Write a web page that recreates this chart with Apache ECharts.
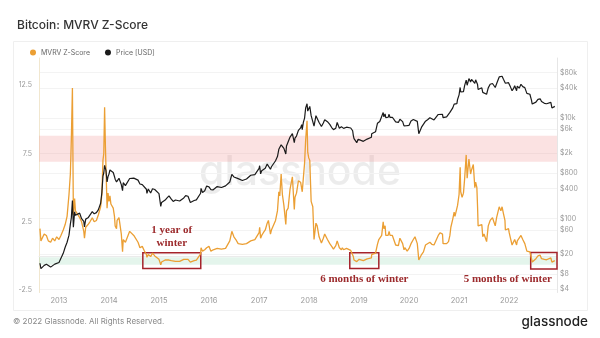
<!DOCTYPE html>
<html><head><meta charset="utf-8">
<script src="https://cdn.jsdelivr.net/npm/echarts@6/dist/echarts.min.js"></script>
<style>html,body{margin:0;padding:0;background:#fff}#c{width:600px;height:338px}</style>
</head><body><div id="c"></div>
<script>
const dates = [
'2012-08-15','2012-08-22','2012-09-01','2012-09-15','2012-10-01','2012-10-15','2012-11-01','2012-11-15','2012-12-01','2012-12-15',
'2013-01-01','2013-01-15','2013-02-01','2013-02-15','2013-03-01','2013-03-15','2013-03-25','2013-04-01','2013-04-09','2013-04-16','2013-04-25','2013-05-01','2013-05-15','2013-06-01','2013-06-15','2013-07-01','2013-07-06','2013-07-15','2013-08-01','2013-08-15','2013-09-01','2013-09-15','2013-10-01','2013-10-15','2013-11-01','2013-11-10','2013-11-18','2013-11-24','2013-11-30','2013-12-06','2013-12-10','2013-12-18','2013-12-25',
'2014-01-01','2014-01-08','2014-01-15','2014-02-01','2014-02-10','2014-02-15','2014-02-25','2014-03-01','2014-03-15','2014-04-01','2014-04-10','2014-04-15','2014-05-01','2014-05-15','2014-06-01','2014-06-15','2014-07-01','2014-07-15','2014-08-01','2014-08-15','2014-09-01','2014-09-15','2014-10-01','2014-10-05','2014-10-15','2014-11-01','2014-11-15','2014-12-01','2014-12-15',
'2015-01-01','2015-01-14','2015-01-20','2015-02-01','2015-02-15','2015-03-01','2015-03-15','2015-04-01','2015-04-15','2015-05-01','2015-05-15','2015-06-01','2015-06-15','2015-07-01','2015-07-15','2015-08-01','2015-08-18','2015-09-01','2015-09-15','2015-10-01','2015-10-15','2015-11-01','2015-11-04','2015-11-15','2015-12-01','2015-12-15',
'2016-01-01','2016-01-15','2016-02-01','2016-02-15','2016-03-01','2016-03-15','2016-04-01','2016-04-15','2016-05-01','2016-05-15','2016-06-01','2016-06-16','2016-07-01','2016-07-15','2016-08-01','2016-08-10','2016-09-01','2016-09-15','2016-10-01','2016-10-15','2016-11-01','2016-11-15','2016-12-01','2016-12-15',
'2017-01-01','2017-01-05','2017-01-12','2017-01-20','2017-02-01','2017-02-15','2017-03-01','2017-03-10','2017-03-25','2017-04-01','2017-04-15','2017-05-01','2017-05-15','2017-05-25','2017-06-01','2017-06-11','2017-06-20','2017-07-01','2017-07-15','2017-07-20','2017-08-01','2017-08-15','2017-09-01','2017-09-15','2017-09-20','2017-10-01','2017-10-15','2017-10-31','2017-11-08','2017-11-12','2017-11-20','2017-11-29','2017-12-07','2017-12-17','2017-12-22','2017-12-29',
'2018-01-06','2018-01-16','2018-01-28','2018-02-06','2018-02-20','2018-03-01','2018-03-15','2018-04-01','2018-04-15','2018-04-25','2018-05-05','2018-05-15','2018-06-01','2018-06-15','2018-06-28','2018-07-15','2018-07-25','2018-08-10','2018-08-25','2018-09-01','2018-09-10','2018-09-20','2018-10-01','2018-10-15','2018-11-01','2018-11-15','2018-11-20','2018-11-25','2018-12-01','2018-12-15','2018-12-25',
'2019-01-01','2019-01-15','2019-02-01','2019-02-08','2019-02-15','2019-03-01','2019-03-15','2019-04-01','2019-04-03','2019-04-15','2019-05-01','2019-05-15','2019-05-25','2019-06-01','2019-06-15','2019-06-26','2019-07-01','2019-07-10','2019-07-15','2019-08-01','2019-08-08','2019-08-15','2019-09-01','2019-09-15','2019-09-25','2019-10-01','2019-10-15','2019-10-26','2019-11-01','2019-11-15','2019-11-25','2019-12-01','2019-12-15','2019-12-18',
'2020-01-01','2020-01-15','2020-02-01','2020-02-13','2020-03-01','2020-03-12','2020-03-15','2020-04-01','2020-04-15','2020-04-30','2020-05-10','2020-05-15','2020-06-01','2020-06-15','2020-07-01','2020-07-15','2020-08-01','2020-08-15','2020-09-01','2020-09-05','2020-09-15','2020-10-01','2020-10-15','2020-10-25','2020-11-01','2020-11-15','2020-11-25','2020-12-01','2020-12-15','2020-12-20','2020-12-31',
'2021-01-08','2021-01-12','2021-01-22','2021-02-01','2021-02-10','2021-02-21','2021-02-28','2021-03-13','2021-03-25','2021-04-01','2021-04-14','2021-04-25','2021-05-01','2021-05-10','2021-05-15','2021-05-19','2021-06-01','2021-06-15','2021-06-22','2021-07-01','2021-07-20','2021-08-01','2021-08-15','2021-09-01','2021-09-07','2021-09-21','2021-10-01','2021-10-20','2021-11-01','2021-11-10','2021-11-20','2021-12-01','2021-12-04','2021-12-15','2021-12-27',
'2022-01-01','2022-01-10','2022-01-22','2022-02-01','2022-02-10','2022-02-24','2022-03-01','2022-03-15','2022-03-28','2022-04-10','2022-04-25','2022-05-01','2022-05-10','2022-05-15','2022-06-01','2022-06-13','2022-06-18','2022-07-01','2022-07-15','2022-07-30','2022-08-15','2022-08-25','2022-09-01','2022-09-15','2022-10-01','2022-10-15','2022-11-01','2022-11-09','2022-11-20','2022-11-30'
];
const mvrv = [
2.0,1.1,1.2,1.6,1.5,1.1,1.0,1.3,1.1,1.4,
1.2,1.5,1.9,2.3,2.9,4.5,6.0,8.5,12.3,3.0,4.2,3.3,3.2,2.8,2.5,1.8,1.3,2.1,2.3,2.5,2.8,2.5,2.6,3.0,3.6,4.5,7.0,7.5,10.9,8.0,6.5,3.5,4.6,
4.0,4.4,3.8,3.5,2.9,2.2,2.0,2.6,2.8,1.6,0.3,1.2,1.0,1.1,1.8,1.7,1.5,1.4,1.0,0.6,0.7,0.4,0.1,-0.1,0.1,-0.05,0.2,0.0,-0.1,
-0.25,-0.65,-0.45,-0.4,-0.3,-0.25,-0.3,-0.35,-0.45,-0.4,-0.4,-0.4,-0.35,-0.25,-0.15,-0.25,-0.45,-0.35,-0.35,-0.3,-0.2,0.15,0.6,0.35,0.45,0.6,
0.7,0.35,0.45,0.5,0.55,0.5,0.5,0.55,0.55,0.6,1.1,1.8,1.4,1.2,0.9,0.8,0.85,0.8,0.9,0.95,1.1,1.05,1.2,1.3,
1.7,2.1,1.3,1.5,1.7,1.9,2.4,2.6,1.6,1.9,2.0,2.6,3.3,4.7,4.4,6.0,4.5,3.7,2.3,3.3,3.5,4.9,5.8,3.4,4.3,4.6,5.5,5.4,5.5,4.7,5.7,6.8,8.5,9.9,7.6,7.2,
7.0,4.0,3.6,1.2,2.4,2.2,1.4,0.95,1.3,1.6,1.6,1.2,0.9,0.7,0.5,0.75,1.1,0.6,0.45,0.6,0.45,0.55,0.55,0.45,0.4,0.3,-0.05,-0.3,-0.2,-0.42,-0.3,
-0.25,-0.3,-0.35,-0.3,-0.25,-0.22,-0.2,-0.15,0.1,0.1,0.2,0.85,1.2,1.3,1.5,2.5,2.0,2.2,1.5,1.5,1.8,1.5,1.5,1.4,0.8,0.85,0.75,1.3,1.2,0.9,0.45,0.6,0.5,0.35,
0.55,0.9,1.2,1.4,0.9,-0.3,-0.2,0.1,0.3,0.8,0.9,0.9,1.0,0.85,0.8,0.8,1.5,1.7,1.6,0.9,0.95,0.9,1.05,1.5,2.1,2.7,3.2,2.9,3.0,3.7,4.5,
6.5,4.7,4.3,4.6,5.7,7.4,5.7,7.1,6.0,6.3,6.7,5.0,5.4,5.0,3.6,2.2,2.2,2.3,1.4,1.6,1.05,2.2,2.6,2.8,2.9,2.2,2.8,3.6,3.3,3.6,3.1,2.6,1.9,1.9,2.0,
1.7,1.3,0.8,0.9,1.2,0.8,1.1,1.0,1.5,1.2,0.9,0.85,0.35,0.35,0.3,-0.2,-0.45,-0.35,-0.2,0.0,0.05,-0.2,-0.22,-0.25,-0.28,-0.3,-0.15,-0.45,-0.45,-0.35
];
const price = [
13.0,10.2,10.6,11.8,12.4,11.8,10.9,11.2,12.5,13.4,
13.5,14.2,20.5,27,34,47,78,104,230,68,137,117,116,129,100,88,69,98,104,110,138,125,132,150,203,330,700,810,1150,1000,900,540,690,
770,930,860,830,690,610,540,560,635,475,360,520,455,448,630,600,640,620,585,490,475,460,385,320,390,325,395,380,350,
315,175,210,225,235,260,285,245,220,235,237,225,235,258,288,280,210,228,230,237,255,320,400,330,360,445,
430,380,375,405,435,415,417,430,450,455,537,760,675,665,625,590,575,610,615,640,730,710,750,780,
1000,1130,780,900,985,1010,1220,1190,960,1080,1180,1420,1720,2400,2410,2950,2700,2500,1930,2800,2730,4200,4900,3250,4000,4400,5700,6400,7400,5900,8200,10000,16000,19300,13800,14400,
17100,11200,11700,6900,11200,10900,8200,6800,8000,9300,9800,8500,7500,6500,5900,6300,8200,6300,6700,7200,6250,6500,6600,6450,6350,5600,4500,3900,4200,3250,3800,
3850,3600,3450,3650,3600,3830,3920,4150,4900,5050,5350,7900,8000,8550,8800,12900,10600,12100,10200,10400,11900,10300,10400,10300,8400,8300,8200,9500,9200,8500,7000,7400,7100,6700,
7200,8800,9400,10300,8600,4900,5300,6600,6900,8700,9500,9300,10200,9400,9200,9150,11800,11900,11900,10200,10800,10600,11500,13000,13800,16000,19000,19700,19400,23500,29000,
40700,33000,32000,33500,44800,57000,45000,61000,52000,58800,63500,49000,57700,56000,46400,37000,36700,40100,32500,33500,29800,39900,47000,48800,46800,40600,48100,65900,61300,68000,59000,57200,49400,48900,50700,
47300,41800,35000,38500,44000,35000,43200,39300,47100,42200,40400,38500,31000,31300,29800,22500,19000,19300,20800,23600,24200,21400,20100,19700,19300,19100,20500,15900,16300,17100
];
const xTickYears = [2013,2014,2015,2016,2017,2018,2019,2020,2021,2022];
const leftTicks = [-2.5, 2.5, 7.5, 12.5];
const rightTicks = [4,8,20,60,100,400,800,2000,6000,10000,40000,80000];
const redBand = [6.9, 8.8];
const greenBand = [-0.65, -0.1];
const winterFrom = ['2014-09-05','2018-10-25','2022-06-07'];
const winterTo = ['2015-11-02','2019-05-25','2022-12-16'];
const winterLow = [-0.93,-0.93,-0.95];
const winterHigh = [0.24,0.24,0.25];
const winterText = ['1 year of\nwinter','6 months of winter','5 months of winter'];

const ts = s => { const p = s.split('-').map(Number); return new Date(p[0], p[1]-1, p[2]).getTime(); };
const n = Math.min(dates.length, mvrv.length, price.length);
const mvrvData = [], priceData = [];
for (let i = 0; i < n; i++) { mvrvData.push([ts(dates[i]), mvrv[i]]); priceData.push([ts(dates[i]), price[i]]); }

const FONT = 'Inter, Roboto, sans-serif';
const SERIF = '"Liberation Serif", "DejaVu Serif", serif';
const boxColor = '#a5232b';
const boxAreas = winterFrom.map((f, i) => [
  { xAxis: ts(f), yAxis: winterHigh[i],
    itemStyle: { color: 'rgba(0,0,0,0)', borderColor: boxColor, borderWidth: 1.5 },
    label: { show: true, formatter: winterText[i], position: i === 0 ? 'top' : 'bottom',
      distance: i === 0 ? 2 : 3, offset: i === 2 ? [-36, 0] : [0, 0],
      color: '#9c2a2c', fontFamily: SERIF, fontSize: 11, fontWeight: 'bold', lineHeight: 13 } },
  { xAxis: ts(winterTo[i]), yAxis: winterLow[i] }
]);
const yearTicks = xTickYears.map(y => new Date(y, 0, 1).getTime());

const chart = echarts.init(document.getElementById('c'), null, { renderer: 'canvas' });
chart.setOption({
  animation: false,
  backgroundColor: '#fff',
  title: { text: 'Bitcoin: MVRV Z-Score', left: 12, top: 14,
    textStyle: { fontFamily: FONT, fontSize: 12, fontWeight: 500, color: '#333' } },
  legend: { data: ['MVRV Z-Score', 'Price [USD]'], icon: 'circle', itemWidth: 6, itemHeight: 6,
    left: 25, top: 44, itemGap: 15, textStyle: { fontFamily: FONT, fontSize: 7, color: '#666' } },
  graphic: [
    { type: 'rect', z: 0, shape: { x: 13.5, y: 41.5, width: 574, height: 269 },
      style: { fill: 'none', stroke: '#efefef', lineWidth: 1 } },
    { type: 'text', z: 0, style: { x: 300, y: 173, text: 'glassnode', align: 'center', verticalAlign: 'middle',
      font: '500 41px Inter, sans-serif', fill: 'rgba(0,0,0,0.075)' } },
    { type: 'text', style: { x: 13, y: 322, text: '© 2022 Glassnode. All Rights Reserved.', verticalAlign: 'middle',
      font: '8px Inter, sans-serif', fill: '#888' } },
    { type: 'text', style: { x: 588, y: 322, text: 'glassnode', align: 'right', verticalAlign: 'middle',
      font: '500 13.5px Inter, sans-serif', fill: '#1e1e1e' } }
  ],
  grid: { left: 39, right: 43, top: 58, bottom: 45.5 },
  xAxis: {
    type: 'time', min: ts('2012-08-08'), max: ts('2022-12-16'),
    minInterval: 365 * 86400000, maxInterval: 366 * 86400000,
    axisLine: { lineStyle: { color: '#ebebeb' } }, axisTick: { show: false }, splitLine: { show: false },
    axisLabel: {
      formatter: v => { const d = new Date(v); return yearTicks.indexOf(v) >= 0 || (d.getMonth() === 0 && d.getDate() === 1) ? String(d.getFullYear()) : ''; },
      color: '#999', fontFamily: FONT, fontSize: 7.5, margin: 4, showMinLabel: false, showMaxLabel: false }
  },
  yAxis: [
    { type: 'value', min: -2.68, max: 14.5, position: 'left',
      axisLine: { show: true, lineStyle: { color: '#f1e7cf' } }, axisTick: { show: false }, splitLine: { show: false },
      axisLabel: { customValues: leftTicks, formatter: v => String(v), color: '#999', fontFamily: FONT, fontSize: 7, margin: 7 } },
    { type: 'log', min: 3.41, max: 156700, position: 'right',
      axisLine: { show: true, lineStyle: { color: '#e6e6e6' } },
      axisTick: { show: false, customValues: rightTicks },
      splitLine: { show: true, lineStyle: { color: '#f3f3f3', width: 1 } },
      axisLabel: { customValues: rightTicks, formatter: v => v >= 1000 ? '$' + (v / 1000) + 'k' : '$' + v,
        color: '#999', fontFamily: FONT, fontSize: 7, margin: 3 } }
  ],
  series: [
    { name: 'MVRV Z-Score', type: 'line', yAxisIndex: 0, data: mvrvData, showSymbol: false, z: 3,
      lineStyle: { color: '#eb9f34', width: 1.3 }, itemStyle: { color: '#eb9f34' },
      markArea: { silent: true, data: [
        [{ yAxis: redBand[0], itemStyle: { color: 'rgba(240,140,140,0.25)' } }, { yAxis: redBand[1] }],
        [{ yAxis: greenBand[0], itemStyle: { color: 'rgba(120,205,160,0.2)' } }, { yAxis: greenBand[1] }],
        ...boxAreas
      ] } },
    { name: 'Price [USD]', type: 'line', yAxisIndex: 1, data: priceData, showSymbol: false, z: 4,
      lineStyle: { color: '#1b1b1b', width: 1.2 }, itemStyle: { color: '#1b1b1b' } }
  ]
});
</script></body></html>
